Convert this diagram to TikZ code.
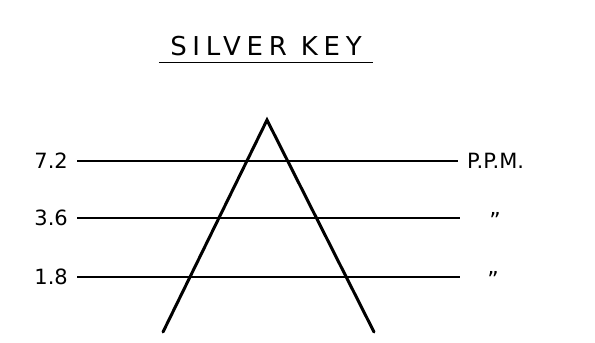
\documentclass[tikz,border=0pt]{standalone}
\usepackage{fontspec}
\setmainfont{DejaVu Sans}
\usetikzlibrary{positioning}
\tikzset{
    level/.style={line width=1.3pt, shorten <=9pt},
    leg/.style={line width=3pt, line cap=round, line join=miter},
    conc/.style={font=\fontsize{21}{21}\selectfont, inner sep=0pt, anchor=east},
    unit/.style={font=\fontsize{21}{21}\selectfont, inner sep=0pt},
    ditto/.style={font=\fontsize{22}{22}\selectfont, inner sep=0pt, anchor=north}
}

\begin{document}
\begin{tikzpicture}[x=1pt, y=1pt]
    \useasboundingbox (0,0) rectangle (595,343);

    % Title
    \node[font=\fontsize{26}{26}\selectfont\addfontfeature{LetterSpace=22},
          minimum width=214pt, inner ysep=6pt, anchor=base] (title) at (266,287) {SILVER KEY};
    \draw[line width=1.8pt] (title.south west) -- (title.south east);

    % Key outline
    \coordinate (apex) at (267,223);
    \coordinate (lfoot) at (163,11);
    \coordinate (rfoot) at (374,11);
    \draw[leg] (lfoot) -- (apex) -- (rfoot);

    % Concentration lines
    \node[conc] (c72) at (68,182) {7.2};
    \node[conc] (c36) at (68,125) {3.6};
    \node[conc] (c18) at (68,66) {1.8};
    \coordinate (r72) at (458,182);
    \coordinate (r36) at (460,125);
    \coordinate (r18) at (460,66);

    \draw[level] (c72) -- (r72);
    \draw[level] (c36) -- (r36);
    \draw[level] (c18) -- (r18);

    \node[unit, right=9pt of r72] (ppm) {P.P.M.};
    \node[ditto] (d36) at (495,131) {\char"0022};
    \node[ditto] (d18) at (493,72) {\char"0022};
\end{tikzpicture}
\end{document}
